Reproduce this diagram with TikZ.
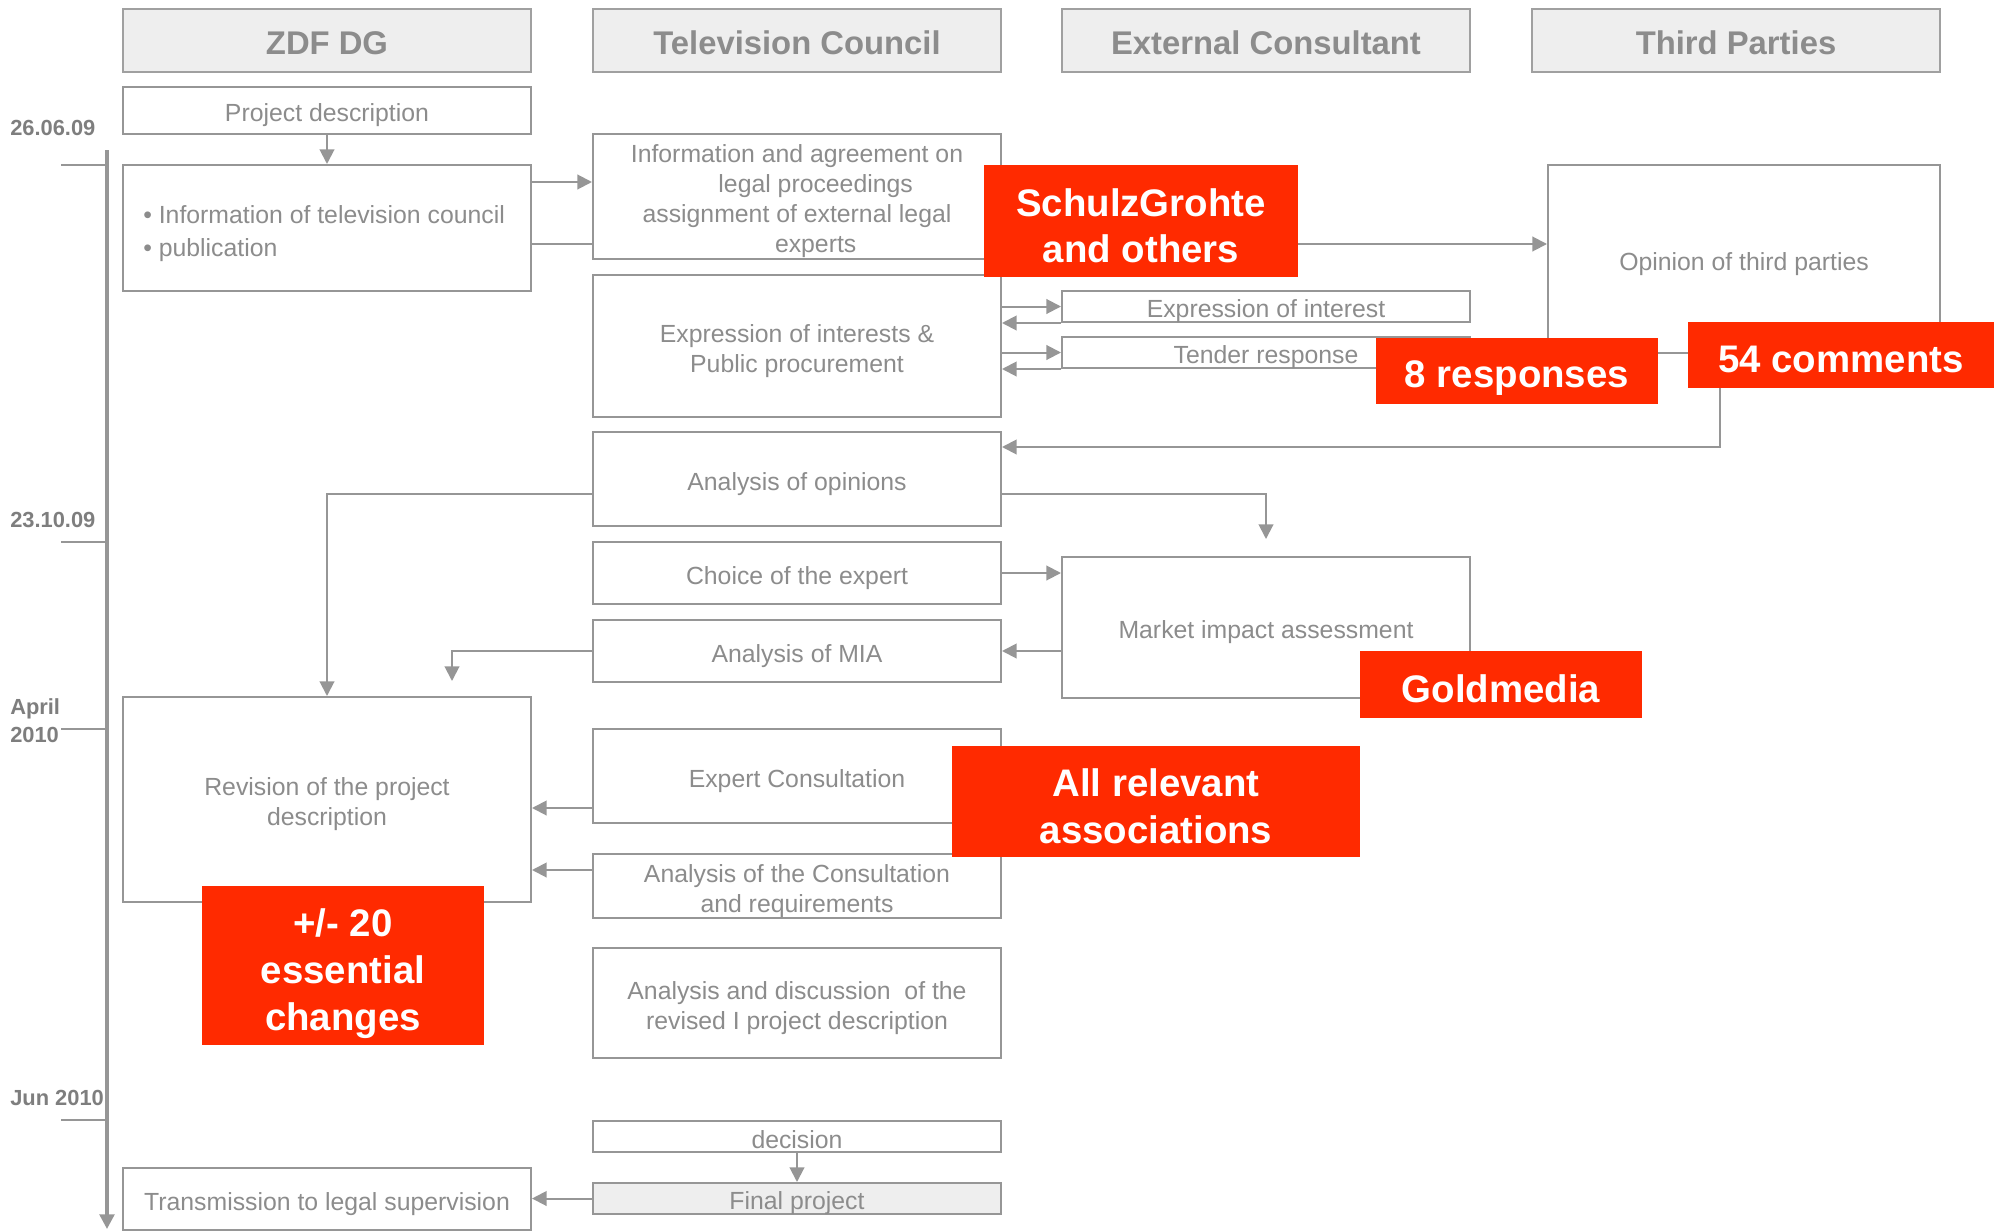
\documentclass[tikz,border=0pt]{standalone}
\usepackage{fontspec}
\setmainfont{Liberation Sans}
\usetikzlibrary{arrows.meta}
\pgfdeclarelayer{bg}
\pgfsetlayers{bg,main}
\definecolor{lgray}{HTML}{969696}
\definecolor{tgray}{HTML}{8C8C8C}
\definecolor{hfill}{HTML}{EEEEEE}
\definecolor{zred}{HTML}{FF2A00}
% #1 shape style, #2 name, #3-#6 corners, #7 text style, #8 text
\newcommand{\bx}[8]{\node[#1, minimum width={(#5-#3)*0.75pt}, minimum height={(#6-#4)*0.75pt}] (#2) at ({(#3+#5)/2},{(#4+#6)/2}) {};
  \node[#7] (#2-t) at ([yshift=-3.5pt]#2.center) {#8};}
\begin{document}
\begin{tikzpicture}[x=0.75pt,y=-0.75pt,
  box/.style={draw=lgray, line width=1.5pt, fill=white, inner sep=0pt},
  boxtxt/.style={text=tgray, font=\fontsize{18.6}{22.5}\selectfont, align=center, inner sep=0pt},
  hdr/.style={draw=lgray!90, line width=1.8pt, fill=hfill, inner sep=0pt},
  hdrtxt/.style={text=tgray, font=\bfseries\fontsize{24.6}{29}\selectfont, inner sep=0pt, yshift=1.5pt},
  redbox/.style={fill=zred, inner sep=0pt},
  redtxt/.style={text=white, font=\bfseries\fontsize{28.8}{35}\selectfont, align=center, inner sep=0pt},
  arr/.style={draw=lgray, line width=1.5pt, -{Triangle[length=11pt,width=11pt]}},
  ln/.style={draw=lgray, line width=1.5pt},
  datelbl/.style={text=tgray!90!black, font=\bfseries\fontsize{16.4}{21}\selectfont, inner sep=0pt, anchor=west, align=left}]
\useasboundingbox (0,0) rectangle (1999,1231);
% headers
\bx{hdr}{h1}{123}{9}{531}{72}{hdrtxt}{ZDF DG}
\bx{hdr}{h2}{593}{9}{1001}{72}{hdrtxt}{Television Council}
\bx{hdr}{h3}{1062}{9}{1470}{72}{hdrtxt}{External Consultant}
\bx{hdr}{h4}{1532}{9}{1940}{72}{hdrtxt}{Third Parties}
% boxes
\bx{box}{proj}{123}{87}{531}{134}{boxtxt}{Project description}
\bx{box}{info}{123}{165}{531}{291}{boxtxt}{}
\node[text=tgray, font=\fontsize{18.6}{24.75}\selectfont, align=left, anchor=west, inner sep=0pt] (infotxt) at (143,234) {• Information of television council\\• publication};
\bx{box}{tvinfo}{593}{134}{1001}{259}{boxtxt}{Information and agreement on\\\hspace*{28pt}legal proceedings\\assignment of external legal\\\hspace*{28pt}experts}
\bx{box}{exprtv}{593}{275}{1001}{417}{boxtxt}{Expression of interests \&\\Public procurement}
\bx{box}{opin}{1548}{165}{1940}{353}{boxtxt}{Opinion of third parties}
\bx{box}{ei}{1062}{291}{1470}{322}{boxtxt}{Expression of interest}
\bx{box}{tender}{1062}{337}{1470}{368}{boxtxt}{Tender response}
\bx{box}{anop}{593}{432}{1001}{526}{boxtxt}{Analysis of opinions}
\bx{box}{choice}{593}{542}{1001}{604}{boxtxt}{Choice of the expert}
\bx{box}{mian}{593}{620}{1001}{682}{boxtxt}{Analysis of MIA}
\bx{box}{mia}{1062}{557}{1470}{698}{boxtxt}{Market impact assessment}
\bx{box}{rev}{123}{697}{531}{902}{boxtxt}{Revision of the project\\description}
\bx{box}{expc}{593}{729}{1001}{823}{boxtxt}{Expert Consultation}
\bx{box}{anac}{593}{854}{1001}{918}{boxtxt}{Analysis of the Consultation\\and requirements}
\bx{box}{anad}{593}{948}{1001}{1058}{boxtxt}{Analysis and discussion~ of the\\revised I project description}
\bx{box}{dec}{593}{1121}{1001}{1152}{boxtxt, yshift=1.5pt}{decision}
\bx{box, fill=hfill}{fin}{593}{1183}{1001}{1214}{boxtxt}{Final project}
\bx{box}{trans}{123}{1168}{531}{1230}{boxtxt}{Transmission to legal supervision}
% red boxes
\bx{redbox}{r1}{984}{165}{1298}{277}{redtxt}{SchulzGrohte\\and others}
\bx{redbox}{r2}{1376}{338}{1658}{404}{redtxt, yshift=-1.5pt}{8 responses}
\bx{redbox}{r3}{1688}{322}{1994}{388}{redtxt}{54 comments}
\bx{redbox}{r4}{1360}{651}{1642}{718}{redtxt}{Goldmedia}
\bx{redbox}{r5}{952}{746}{1360}{857}{redtxt}{All relevant\\associations}
\bx{redbox}{r6}{202}{886}{484}{1045}{redtxt, yshift=-2.5pt}{+/- 20\\essential\\changes}
% timeline
\coordinate (tlt) at (107,150);
\coordinate (tlb) at (107,1229);
\draw[arr, line width=2.5pt] (tlt) -- (tlb);
\draw[ln] (61,165) -- (107,165);
\draw[ln] (61,542) -- (107,542);
\draw[ln] (61,729) -- (107,729);
\draw[ln] (61,1120) -- (107,1120);
\node[datelbl] (d1) at (10,128) {26.06.09};
\node[datelbl] (d2) at (10,520) {23.10.09};
\node[datelbl] (d3) at (10,721) {April\\2010};
\node[datelbl] (d4) at (10,1098) {Jun 2010};
% connectors
\begin{pgfonlayer}{bg}
\draw[arr] (proj.south) -- (info.north);
\draw[arr] ([shift={(0,-46)}]info.east) -- ([shift={(0,-46)}]info.east -| tvinfo.west);
\draw[arr] ([shift={(0,16)}]info.east) -- ([shift={(0,16)}]info.east -| opin.west);
\draw[arr] (exprtv.east |- ei.west) -- (ei.west);
\draw[arr] (ei.south west) -- (ei.south west -| exprtv.east);
\draw[arr] (exprtv.east |- tender.west) -- (tender.west);
\draw[arr] (tender.south west) -- (tender.south west -| exprtv.east);
\draw[arr] ([shift={(-24,0)}]opin.south) |- ([shift={(0,-32)}]anop.east);
\draw[arr] ([shift={(0,15)}]anop.west) -| (rev.north);
\coordinate (miatip) at ([shift={(0,-17)}]mia.north);
\draw[arr] ([shift={(0,15)}]anop.east) -| (miatip);
\draw[arr] (choice.east) -- (choice.east -| mia.west);
\draw[arr] (mian.east -| mia.west) -- (mian.east);
\coordinate (revtip) at ([shift={(125,-15)}]rev.north);
\draw[arr] (mian.west) -| (revtip);
\draw[arr] ([shift={(0,32)}]expc.west) -- ([shift={(0,32)}]expc.west -| rev.east);
\draw[arr] ([shift={(0,-16)}]anac.west) -- ([shift={(0,-16)}]anac.west -| rev.east);
\draw[arr] (dec.south) -- (fin.north);
\draw[arr] (fin.west) -- (fin.west -| trans.east);
\end{pgfonlayer}
\end{tikzpicture}
\end{document}
